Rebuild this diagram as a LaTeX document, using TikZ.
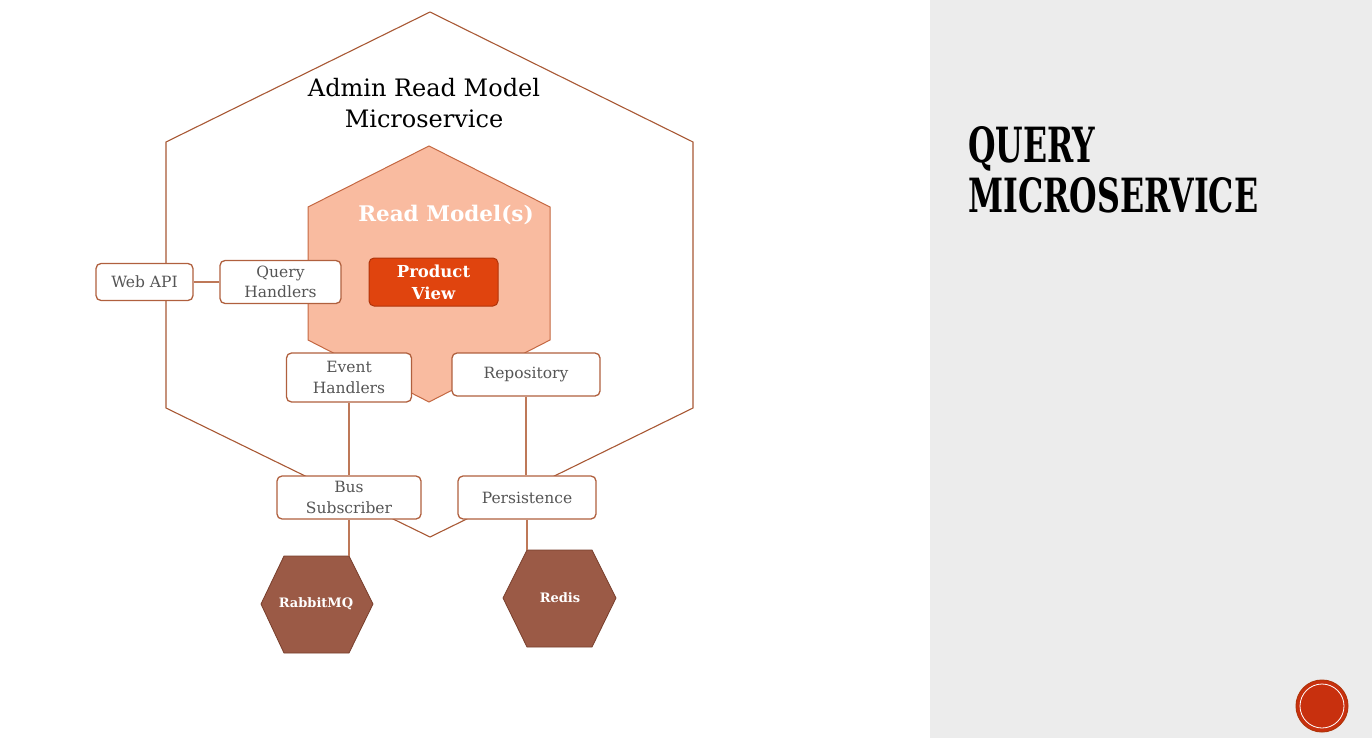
\documentclass[tikz,border=0pt]{standalone}
\usepackage{fontspec}
\setmainfont{DejaVu Serif}
\usetikzlibrary{calc}
\definecolor{edge}{RGB}{168,88,52}
\definecolor{conn}{RGB}{190,120,88}
\definecolor{boxline}{RGB}{176,96,62}
\definecolor{txtgray}{RGB}{85,85,85}
\definecolor{salmon}{RGB}{249,187,160}
\definecolor{salmonline}{RGB}{196,104,66}
\definecolor{prodfill}{RGB}{224,68,14}
\definecolor{prodline}{RGB}{176,52,10}
\definecolor{hexbrown}{RGB}{155,90,70}
\definecolor{hexline}{RGB}{120,62,44}
\definecolor{panel}{RGB}{236,236,236}
\definecolor{dotred}{RGB}{200,48,14}
\begin{document}
\begin{tikzpicture}[x=1pt,y=-1pt,
  boxnode/.style={draw=boxline, fill=white, rounded corners=5pt, line width=1.3pt,
     text=txtgray, font=\fontsize{15.5}{20.5}\selectfont, align=center, inner sep=0pt},
  hexlabel/.style={text=white, font=\bfseries\fontsize{13}{15}\selectfont, inner sep=0pt},
  link/.style={draw=conn, line width=1.5pt}]
\useasboundingbox (0,0) rectangle (1372,738);
% right panel
\fill[panel] (930,0) rectangle (1372,738);
\node[anchor=base west, inner sep=0pt] (t1) at (968,163) {\resizebox{127pt}{36pt}{\bfseries QUERY}};
\node[anchor=base west, inner sep=0pt] (t2) at (968,213) {\resizebox{290pt}{35pt}{\bfseries MICROSERVICE}};
% page dot
\fill[dotred, draw=prodline, line width=1pt] (1322,706) circle (26);
\draw[white, line width=0.8pt] (1322,706) circle (22);
% outer hexagon
\draw[edge, line width=1.1pt] (430,12) -- (693,142) -- (693,408) -- (430,537) -- (166,408) -- (166,142) -- cycle;
\node[font=\fontsize{24}{31}\selectfont, align=center, inner sep=0pt] (title) at (424,103) {Admin Read Model\\Microservice};
% inner hexagon
\draw[fill=salmon, draw=salmonline, line width=1pt] (429,146) -- (550,207) -- (550,340) -- (429,402) -- (308,340) -- (308,207) -- cycle;
\node[text=white, font=\bfseries\fontsize{21.5}{24}\selectfont, inner sep=0pt] (rm) at (446,215) {Read Model(s)};
\node[draw=prodline, fill=prodfill, rounded corners=5pt, line width=1pt, minimum width=129pt, minimum height=48pt,
      text=white, font=\bfseries\fontsize{16.5}{22}\selectfont, align=center, inner sep=0pt] (pv) at (433.5,282) {Product\\View};
% boxes
\node[boxnode, minimum width=97pt, minimum height=37pt] (web) at (144.5,282) {Web API};
\node[boxnode, minimum width=121pt, minimum height=43pt] (qh) at (280.5,282) {Query\\Handlers};
\node[boxnode, minimum width=125pt, minimum height=49pt] (eh) at (349,377.5) {Event\\Handlers};
\node[boxnode, minimum width=148pt, minimum height=43pt] (repo) at (526,374.5) {Repository};
\node[boxnode, minimum width=144pt, minimum height=43pt] (bus) at (349,497.5) {Bus\\Subscriber};
\node[boxnode, minimum width=138pt, minimum height=43pt] (pers) at (527,497.5) {Persistence};
% external hexagons
\draw[fill=hexbrown, draw=hexline, line width=0.8pt] (284,556) -- (349,556) -- (373,604) -- (349,653) -- (284,653) -- (261,604) -- cycle;
\coordinate (rabtop) at (349,556);
\node[hexlabel] (rabbit) at (316,604) {RabbitMQ};
\draw[fill=hexbrown, draw=hexline, line width=0.8pt] (527,550) -- (592,550) -- (616,598) -- (592,647) -- (527,647) -- (503,598) -- cycle;
\coordinate (redtop) at (527,550);
\node[hexlabel] (redis) at (560,598) {Redis};
% connectors
\draw[link] (web.east) -- (qh.west);
\draw[link] (eh.south) -- (eh.south |- bus.north);
\draw[link] (repo.south) -- (repo.south |- pers.north);
\draw[link] (bus.south) -- (rabtop);
\draw[link] (pers.south) -- (redtop);
\end{tikzpicture}
\end{document}
